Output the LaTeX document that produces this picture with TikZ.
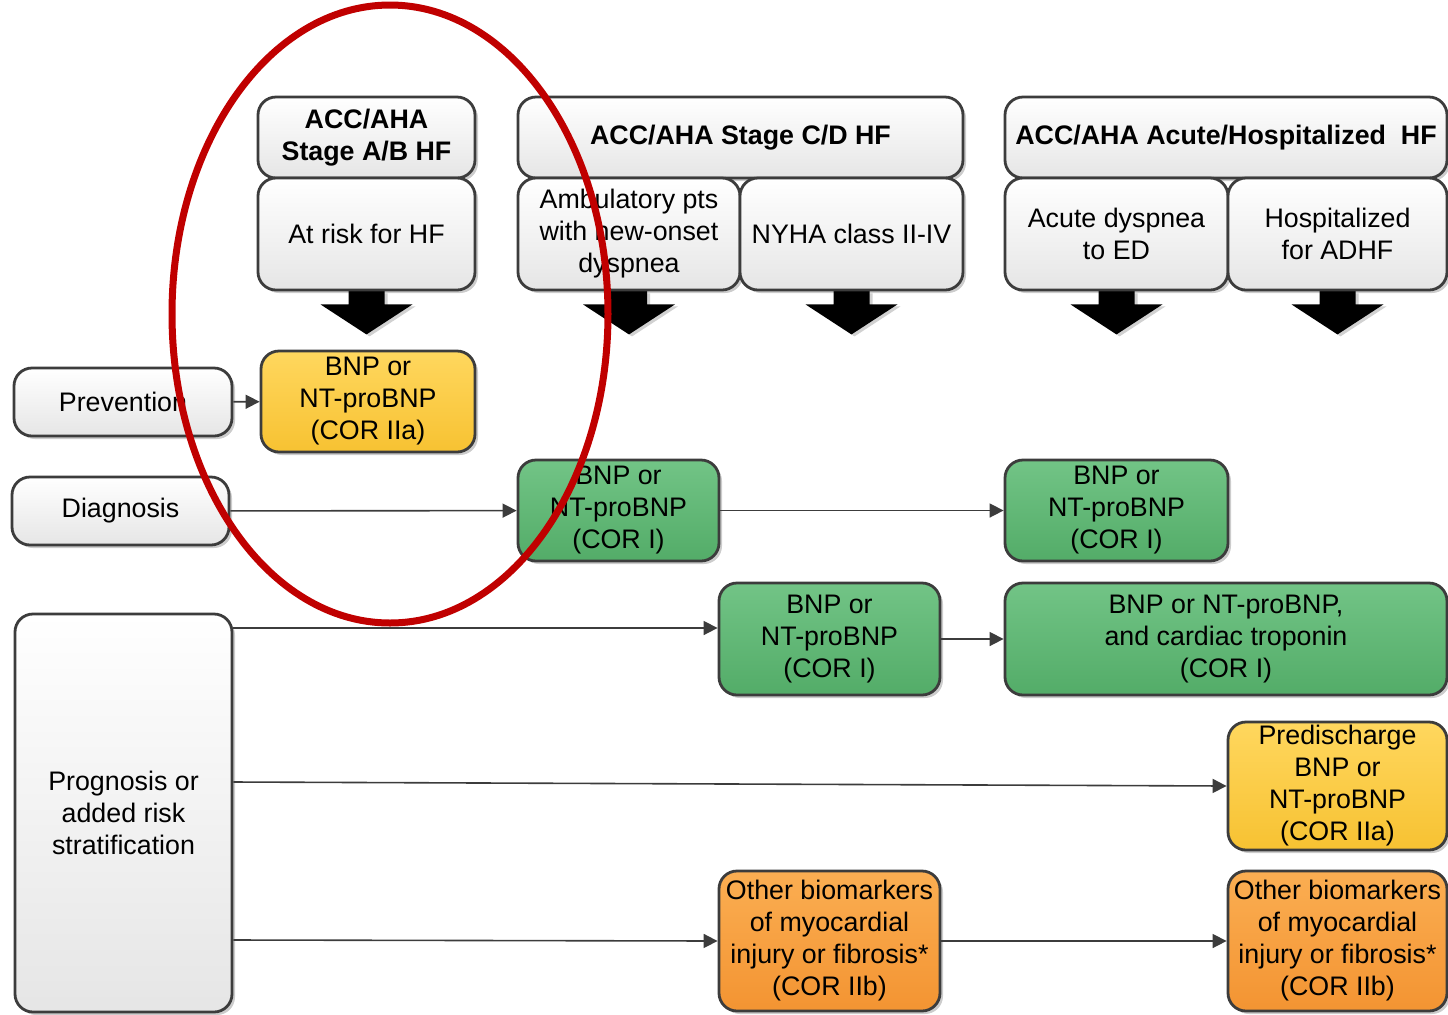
\documentclass[tikz,border=0pt]{standalone}
\usepackage{fontspec}
\setmainfont{Liberation Sans}
\usetikzlibrary{arrows.meta,shadows,calc}
\pgfdeclarelayer{background}
\pgfsetlayers{background,main}
\definecolor{bord}{HTML}{3C3C3C}
\definecolor{grnT}{HTML}{72C486}
\definecolor{grnB}{HTML}{53AC68}
\definecolor{ylwT}{HTML}{FFD75E}
\definecolor{ylwB}{HTML}{F7C232}
\definecolor{orgT}{HTML}{FBAE52}
\definecolor{orgB}{HTML}{F39432}
\definecolor{ovalred}{HTML}{C00000}
\begin{document}
\begin{tikzpicture}[x=0.5pt,y=-0.5pt,
  base/.style={draw=bord, line width=1.4pt, rounded corners=9pt, align=center,
    inner sep=0pt, font=\fontsize{13.4}{16}\selectfont, text=black,
    drop shadow={shadow xshift=1.5pt, shadow yshift=-1.5pt, opacity=0.2, fill=black}},
  graybox/.style={base, top color=white, bottom color=black!10},
  headbox/.style={graybox, font=\bfseries\fontsize{13.4}{16}\selectfont},
  grnbox/.style={base, top color=grnT, bottom color=grnB},
  ylwbox/.style={base, top color=ylwT, bottom color=ylwB},
  orgbox/.style={base, top color=orgT, bottom color=orgB},
  conn/.style={draw=bord, line width=0.8pt, -{Triangle[length=7pt,width=7pt]}},
  blockarrow/.style={fill=black},
  blockshadow/.style={fill=black, opacity=0.18}
]
\useasboundingbox (0,0) rectangle (1448,1014);

% header and stage boxes
\node[headbox, minimum width=108.5pt, minimum height=40.5pt] (h1) at (366.5,137.5) {ACC/AHA\\Stage A/B HF};
\node[graybox, minimum width=108.5pt, minimum height=56pt] (s1) at (366.5,234) {At risk for HF};
\node[headbox, minimum width=222.5pt, minimum height=40.5pt] (h2) at (740.5,137.5) {ACC/AHA Stage C/D HF};
\node[graybox, minimum width=111pt, minimum height=56pt] (s2a) at (629,234) {Ambulatory pts\\with new-onset\\dyspnea};
\node[graybox, minimum width=111.5pt, minimum height=56pt] (s2b) at (851.5,234) {NYHA class II-IV};
\node[headbox, minimum width=221pt, minimum height=40.5pt] (h3) at (1226,137.5) {ACC/AHA Acute/Hospitalized\ \ HF};
\node[graybox, minimum width=111.5pt, minimum height=56pt] (s3a) at (1116.5,234) {Acute dyspnea\\to ED};
\node[graybox, minimum width=109.5pt, minimum height=56pt] (s3b) at (1337.5,234) {Hospitalized\\for ADHF};

% block arrows (behind the boxes)
\begin{pgfonlayer}{background}
\foreach \n in {s1,s2a,s2b,s3a,s3b}{
  \fill[blockshadow] ($(\n.south)+(-15,2)$) -- ++(36,0) -- ++(0,13) -- ++(28,0) -- ++(-46,30) -- ++(-46,-30) -- ++(28,0) -- cycle;
  \fill[blockarrow] ($(\n.south)+(-18,-4)$) -- ++(36,0) -- ++(0,17) -- ++(28,0) -- ++(-46,30) -- ++(-46,-30) -- ++(28,0) -- cycle;
}
\end{pgfonlayer}

% left row labels
\node[graybox, minimum width=109pt, minimum height=34pt] (prev) at (123,402) {Prevention};
\node[graybox, minimum width=108.5pt, minimum height=34pt] (diag) at (120.5,511) {Diagnosis};
\node[graybox, minimum width=108.5pt, minimum height=199pt] (prog) at (123.5,813) {Prognosis or\\added risk\\stratification};

% biomarker boxes
\node[ylwbox, minimum width=107pt, minimum height=50.5pt] (y1) at (368,401.5) {BNP or\\NT-proBNP\\(COR IIa)};
\node[grnbox, minimum width=100.5pt, minimum height=50.5pt] (g1) at (618.5,510.5) {BNP or\\NT-proBNP\\(COR I)};
\node[grnbox, minimum width=111.5pt, minimum height=50.5pt] (g2) at (1116.5,510.5) {BNP or\\NT-proBNP\\(COR I)};
\node[grnbox, minimum width=110.5pt, minimum height=56pt] (g3) at (829.5,639) {BNP or\\NT-proBNP\\(COR I)};
\node[grnbox, minimum width=221pt, minimum height=56pt] (g4) at (1226,639) {BNP or NT-proBNP,\\and cardiac troponin\\(COR I)};
\node[ylwbox, minimum width=109.5pt, minimum height=64pt] (y2) at (1337.5,786) {Predischarge\\BNP or\\NT-proBNP\\(COR IIa)};
\node[orgbox, minimum width=110.5pt, minimum height=70pt] (o1) at (829.5,941) {Other biomarkers\\of myocardial\\injury or fibrosis*\\(COR IIb)};
\node[orgbox, minimum width=109.5pt, minimum height=70pt] (o2) at (1337.5,941) {Other biomarkers\\of myocardial\\injury or fibrosis*\\(COR IIb)};

% connectors
\draw[conn] (prev) -- (y1);
\draw[conn] (diag) -- (g1);
\draw[conn] (g1) -- (g2);
\draw[conn] (prog.east |- 0,628) -- (g3.west |- 0,628);
\draw[conn] (g3) -- (g4);
\draw[conn] (prog.east |- 0,782) -- (y2.west);
\draw[conn] (prog.east |- 0,940) -- (o1.west);
\draw[conn] (o1) -- (o2);

% red highlight oval
\draw[ovalred, line width=3.5pt] (390,314) ellipse [x radius=218, y radius=309];
\end{tikzpicture}
\end{document}
